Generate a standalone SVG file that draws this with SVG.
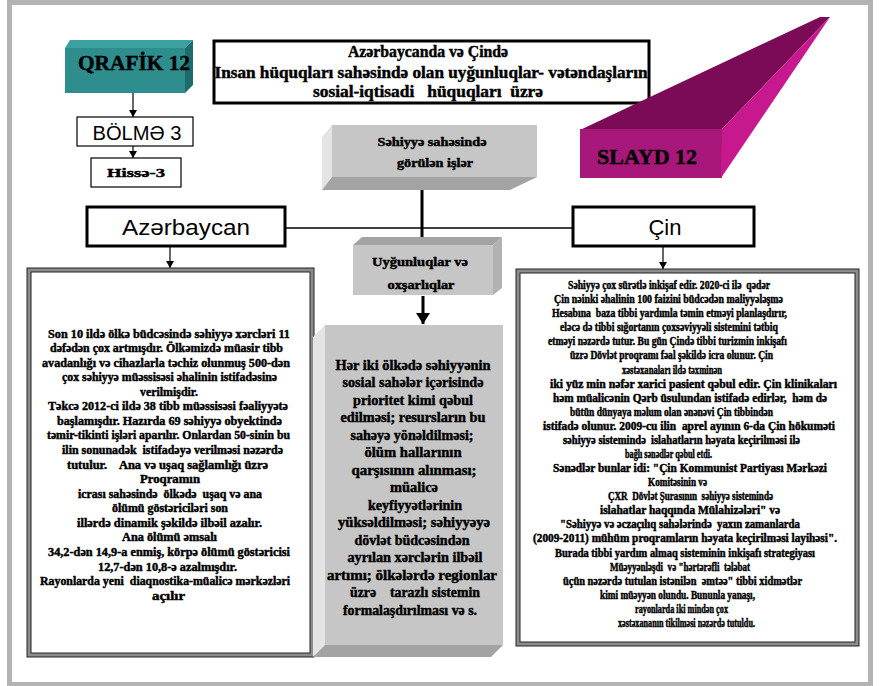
<svg xmlns="http://www.w3.org/2000/svg" width="881" height="686" viewBox="0 0 881 686">
<defs>
<style>
.t{font-family:"Liberation Serif","Times New Roman","DejaVu Serif",serif;font-weight:bold;fill:#000;stroke:#000;stroke-width:0.45;stroke-linejoin:round}
.s{font-family:"Liberation Sans",Arial,sans-serif;fill:#000}
.lb{font-size:12.5px}
.rb{font-size:11.5px}
.cb{font-size:14px}
.box{fill:#fff;stroke:#000;stroke-width:3}
.thin{fill:#fff;stroke:#000;stroke-width:1.2}
.dbl{fill:#fff;stroke:#8c8c8c;stroke-width:4}
.dl{fill:none;stroke:#222;stroke-width:1}
.conn{stroke:#000;fill:none}
.gF{fill:#c6c6c6}.gL{fill:#e4e4e4}.gD{fill:#a3a3a3}
</style>
<marker id="ah" markerUnits="userSpaceOnUse" markerWidth="8" markerHeight="8" refX="7" refY="4" orient="auto"><path d="M0,0 L7,4 L0,8 Z" fill="#000"/></marker>
<marker id="ahb" markerUnits="userSpaceOnUse" markerWidth="12" markerHeight="14" refX="11" refY="7" orient="auto"><path d="M0,0 L11,7 L0,14 Z" fill="#000"/></marker>
</defs>
<rect width="881" height="686" fill="#fff"/>
<rect x="9.5" y="2.5" width="861" height="682" fill="none" stroke="#b3b3b3" stroke-width="5"/>

<g id="connectors">
<line class="conn" x1="133" y1="93" x2="133" y2="117" stroke-width="1.2" marker-end="url(#ah)"/>
<line class="conn" x1="133" y1="146" x2="133" y2="158" stroke-width="1.2" marker-end="url(#ah)"/>
<line class="conn" x1="286" y1="228" x2="572" y2="228" stroke-width="1.5"/>
<line class="conn" x1="422" y1="178" x2="422" y2="238" stroke-width="3"/>
<line class="conn" x1="170" y1="247" x2="170" y2="268" stroke-width="1.2" marker-end="url(#ah)"/>
<line class="conn" x1="663" y1="247" x2="663" y2="269" stroke-width="1.2" marker-end="url(#ah)"/>
<line class="conn" x1="423" y1="296" x2="423" y2="324" stroke-width="3" marker-end="url(#ahb)"/>
</g>

<g id="qrafik">
<polygon points="65,48 70,40 193,40 185,48" fill="#3aa0a0"/>
<rect x="65" y="48" width="120" height="45" fill="#2e8e8e"/>
<polygon points="185,48 193,40 193,85 185,93" fill="#1f6b6b"/>
<text class="t" x="134" y="70" font-size="22" text-anchor="middle" textLength="112" lengthAdjust="spacingAndGlyphs">QRAFİK 12</text>
</g>

<g id="bolme">
<rect class="thin" x="77" y="117" width="116" height="29"/>
<text class="s" x="137" y="140" font-size="20" text-anchor="middle" textLength="89" lengthAdjust="spacingAndGlyphs">BÖLMƏ 3</text>
</g>

<g id="hisse">
<rect class="thin" x="91" y="158" width="90" height="29"/>
<text class="t" x="136" y="177" font-size="13" text-anchor="middle" textLength="58" lengthAdjust="spacingAndGlyphs">Hissə-3</text>
</g>

<g id="title">
<rect class="box" x="214" y="41" width="435" height="62"/>
<text class="t" x="428" y="57" font-size="16.5" text-anchor="middle" textLength="160" lengthAdjust="spacingAndGlyphs">Azərbaycanda və Çində</text>
<text class="t" x="431" y="78" font-size="16.5" text-anchor="middle" textLength="433" lengthAdjust="spacingAndGlyphs">Insan hüquqları sahəsində olan uyğunluqlar- vətəndaşların</text>
<text class="t" x="428" y="97" font-size="16.5" text-anchor="middle" textLength="230" lengthAdjust="spacingAndGlyphs" xml:space="preserve">sosial-iqtisadi   hüquqları  üzrə</text>
</g>

<g id="slayd">
<polygon points="580,130 820,17 830,17 722,129" fill="#7b0b56"/>
<rect x="580" y="129" width="142" height="49" fill="#a8177a"/>
<polygon points="722,129 830,17 721,178" fill="#c8188e"/>
<text class="t" x="647" y="164" font-size="22" text-anchor="middle" textLength="100" lengthAdjust="spacingAndGlyphs">SLAYD 12</text>
</g>

<g id="sehiyye">
<polygon class="gL" points="322,137 332,125 332,177 322,190"/>
<rect class="gF" x="332" y="125" width="205" height="52"/>
<polygon class="gD" points="322,190 332,177 537,177 510,190"/>
<text class="t" x="432" y="146" font-size="12.5" text-anchor="middle" textLength="109" lengthAdjust="spacingAndGlyphs">Səhiyyə sahəsində</text>
<text class="t" x="435" y="167" font-size="12.5" text-anchor="middle" textLength="76" lengthAdjust="spacingAndGlyphs">görülən işlər</text>
</g>

<g id="azerbaycan">
<rect class="box" x="87" y="207" width="198" height="39"/>
<text class="s" x="186" y="235" font-size="22" text-anchor="middle" textLength="128" lengthAdjust="spacingAndGlyphs">Azərbaycan</text>
</g>

<g id="cin">
<rect class="box" x="573" y="207" width="181" height="39"/>
<text class="s" x="665" y="235" font-size="22" text-anchor="middle">Çin</text>
</g>

<g id="uygunluqlar">
<polygon class="gD" points="353,245 362,237 502,237 493,245"/>
<rect class="gF" x="353" y="245" width="140" height="50"/>
<polygon fill="#b2b2b2" points="493,245 502,237 502,288 493,295"/>
<text class="t" x="420" y="266" font-size="12.5" text-anchor="middle" textLength="96" lengthAdjust="spacingAndGlyphs">Uyğunluqlar və</text>
<text class="t" x="421" y="289" font-size="12.5" text-anchor="middle" textLength="67" lengthAdjust="spacingAndGlyphs">oxşarlıqlar</text>
</g>

<g id="azerbaycan-text">
<rect class="dbl" x="29" y="270" width="283" height="385"/>
<rect class="dl" x="27" y="268" width="287" height="389"/>
<rect class="dl" x="31" y="272" width="279" height="381"/>
<g class="t lb">
<text x="48" y="337.5" textLength="242" lengthAdjust="spacingAndGlyphs">Son 10 ildə ölkə büdcəsində  səhiyyə xərcləri 11</text>
<text x="50" y="352.1" textLength="233" lengthAdjust="spacingAndGlyphs">dəfədən  çox artmışdır. Ölkəmizdə müasir tibb</text>
<text x="42" y="366.6" textLength="248" lengthAdjust="spacingAndGlyphs">avadanlığı və cihazlarla təchiz olunmuş 500-dən</text>
<text x="62" y="381.2" textLength="215" lengthAdjust="spacingAndGlyphs">çox səhiyyə müəssisəsi əhalinin istifadəsinə</text>
<text x="140" y="395.7" textLength="58" lengthAdjust="spacingAndGlyphs">verilmişdir.</text>
<text x="48" y="410.3" textLength="240" lengthAdjust="spacingAndGlyphs">Təkcə 2012-ci ildə 38 tibb müəssisəsi fəaliyyətə</text>
<text x="57" y="424.9" textLength="225" lengthAdjust="spacingAndGlyphs">başlamışdır. Hazırda 69 səhiyyə obyektində</text>
<text x="47" y="439.4" textLength="243" lengthAdjust="spacingAndGlyphs">təmir-tikinti işləri aparılır. Onlardan 50-sinin bu</text>
<text x="62" y="454" textLength="221" lengthAdjust="spacingAndGlyphs" xml:space="preserve">ilin sonunadək  istifadəyə verilməsi nəzərdə</text>
<text x="67" y="468.5" textLength="201" lengthAdjust="spacingAndGlyphs" xml:space="preserve">tutulur.    Ana və uşaq sağlamlığı üzrə</text>
<text x="140" y="483.1" textLength="60" lengthAdjust="spacingAndGlyphs">Proqramın</text>
<text x="78" y="497.7" textLength="184" lengthAdjust="spacingAndGlyphs" xml:space="preserve">icrası sahəsində  ölkədə  uşaq və ana</text>
<text x="112" y="512.2" textLength="116" lengthAdjust="spacingAndGlyphs">ölümü göstəriciləri son</text>
<text x="77" y="526.8" textLength="185" lengthAdjust="spacingAndGlyphs">illərdə dinamik şəkildə ilbəil azalır.</text>
<text x="122" y="541.3" textLength="95" lengthAdjust="spacingAndGlyphs">Ana ölümü əmsalı</text>
<text x="48" y="555.9" textLength="242" lengthAdjust="spacingAndGlyphs">34,2-dən 14,9-a enmiş, körpə ölümü göstəricisi</text>
<text x="98" y="570.5" textLength="139" lengthAdjust="spacingAndGlyphs">12,7-dən 10,8-ə azalmışdır.</text>
<text x="40" y="585" textLength="250" lengthAdjust="spacingAndGlyphs" xml:space="preserve">Rayonlarda yeni  diaqnostika-müalicə mərkəzləri</text>
<text x="152" y="599.6" textLength="33" lengthAdjust="spacingAndGlyphs">açılır</text>
</g>
</g>

<g id="oxsarliqlar-text">
<polygon class="gL" points="313,337 325,325 325,645 313,657"/>
<rect class="gF" x="325" y="325" width="178" height="320"/>
<polygon class="gD" points="313,657 325,645 503,645 491,657"/>
<g class="t cb" text-anchor="middle">
<text x="413" y="369.5" textLength="155" lengthAdjust="spacingAndGlyphs">Hər iki ölkədə səhiyyənin</text>
<text x="413" y="387" textLength="141" lengthAdjust="spacingAndGlyphs">sosial sahələr içərisində</text>
<text x="413" y="404.5" textLength="120" lengthAdjust="spacingAndGlyphs">prioritet kimi qəbul</text>
<text x="413" y="422" textLength="145" lengthAdjust="spacingAndGlyphs">edilməsi; resursların bu</text>
<text x="412" y="439.5" textLength="123" lengthAdjust="spacingAndGlyphs">sahəyə yönəldilməsi;</text>
<text x="413" y="457" textLength="97" lengthAdjust="spacingAndGlyphs">ölüm hallarının</text>
<text x="414" y="474.5" textLength="125" lengthAdjust="spacingAndGlyphs">qarşısının alınması;</text>
<text x="414" y="492" textLength="48" lengthAdjust="spacingAndGlyphs">müalicə</text>
<text x="415" y="509.5" textLength="94" lengthAdjust="spacingAndGlyphs">keyfiyyətlərinin</text>
<text x="414" y="527" textLength="152" lengthAdjust="spacingAndGlyphs">yüksəldilməsi; səhiyyəyə</text>
<text x="412" y="544.5" textLength="115" lengthAdjust="spacingAndGlyphs">dövlət büdcəsindən</text>
<text x="415" y="562" textLength="135" lengthAdjust="spacingAndGlyphs">ayrılan xərclərin ilbəil</text>
<text x="412" y="579.5" textLength="170" lengthAdjust="spacingAndGlyphs">artımı; ölkələrdə regionlar</text>
<text x="415" y="597" textLength="130" lengthAdjust="spacingAndGlyphs" xml:space="preserve">üzrə    tarazlı sistemin</text>
<text x="410" y="614.5" textLength="134" lengthAdjust="spacingAndGlyphs">formalaşdırılması və s.</text>
</g>
</g>

<g id="cin-text">
<rect class="dbl" x="518" y="271" width="339" height="373"/>
<rect class="dl" x="516" y="269" width="343" height="377"/>
<rect class="dl" x="520" y="273" width="335" height="369"/>
<g class="t rb">
<text x="568" y="289" textLength="202" lengthAdjust="spacingAndGlyphs" xml:space="preserve">Səhiyyə çox sürətlə inkişaf edir. 2020-ci ilə  qədər</text>
<text x="554" y="303.1" textLength="229" lengthAdjust="spacingAndGlyphs">Çin nəinki əhalinin 100 faizini büdcədən maliyyələşmə</text>
<text x="552" y="317.2" textLength="235" lengthAdjust="spacingAndGlyphs" xml:space="preserve">Hesabına  baza tibbi yardımla təmin etməyi planlaşdırır,</text>
<text x="560" y="331.2" textLength="218" lengthAdjust="spacingAndGlyphs">eləcə də tibbi sığortanın çoxsəviyyəli sistemini tətbiq</text>
<text x="548" y="345.3" textLength="239" lengthAdjust="spacingAndGlyphs">etməyi nəzərdə tutur. Bu gün Çində tibbi turizmin inkişafı</text>
<text x="570" y="359.4" textLength="203" lengthAdjust="spacingAndGlyphs">üzrə Dövlət proqramı fəal şəkildə icra olunur. Çin</text>
<text x="622" y="373.5" textLength="100" lengthAdjust="spacingAndGlyphs">xəstəxanaları ildə təxminən</text>
<text x="550" y="387.6" textLength="287" lengthAdjust="spacingAndGlyphs">iki yüz min nəfər xarici pasient qəbul edir. Çin klinikaları</text>
<text x="553" y="401.6" textLength="274" lengthAdjust="spacingAndGlyphs" xml:space="preserve">həm müalicənin Qərb üsulundan istifadə edirlər,  həm də</text>
<text x="570" y="415.7" textLength="203" lengthAdjust="spacingAndGlyphs">bütün dünyaya məlum olan ənənəvi Çin tibbindən</text>
<text x="543" y="429.8" textLength="292" lengthAdjust="spacingAndGlyphs" xml:space="preserve">istifadə olunur. 2009-cu ilin  aprel ayının 6-da Çin hökuməti</text>
<text x="563" y="443.9" textLength="237" lengthAdjust="spacingAndGlyphs" xml:space="preserve">səhiyyə sistemində  islahatların həyata keçirilməsi ilə</text>
<text x="625" y="458" textLength="87" lengthAdjust="spacingAndGlyphs">bağlı sənədlər qəbul etdi.</text>
<text x="553" y="472" textLength="274" lengthAdjust="spacingAndGlyphs">Sənədlər bunlar idi: "Çin Kommunist Partiyası Mərkəzi</text>
<text x="648" y="486.1" textLength="59" lengthAdjust="spacingAndGlyphs">Komitəsinin və</text>
<text x="608" y="500.2" textLength="165" lengthAdjust="spacingAndGlyphs" xml:space="preserve">ÇXR  Dövlət Şurasının  səhiyyə sistemində</text>
<text x="600" y="514.3" textLength="180" lengthAdjust="spacingAndGlyphs">islahatlar haqqında Mülahizələri" və</text>
<text x="560" y="528.4" textLength="240" lengthAdjust="spacingAndGlyphs" xml:space="preserve">"Səhiyyə və əczaçılıq sahələrində  yaxın zamanlarda</text>
<text x="533" y="542.4" textLength="304" lengthAdjust="spacingAndGlyphs">(2009-2011) mühüm proqramların həyata keçirilməsi layihəsi".</text>
<text x="555" y="556.5" textLength="260" lengthAdjust="spacingAndGlyphs">Burada tibbi yardım almaq sisteminin inkişafı strategiyası</text>
<text x="610" y="570.6" textLength="140" lengthAdjust="spacingAndGlyphs" xml:space="preserve">Müəyyənləşdi  və "hərtərəfli  tələbat</text>
<text x="563" y="584.7" textLength="239" lengthAdjust="spacingAndGlyphs" xml:space="preserve">üçün nəzərdə tutulan istənilən  əmtəə" tibbi xidmətlər</text>
<text x="600" y="598.8" textLength="155" lengthAdjust="spacingAndGlyphs">kimi müəyyən olundu. Bununla yanaşı,</text>
<text x="635" y="612.8" textLength="93" lengthAdjust="spacingAndGlyphs">rayonlarda iki mindən çox</text>
<text x="618" y="627" textLength="137" lengthAdjust="spacingAndGlyphs">xəstəxananın tikilməsi nəzərdə tutuldu.</text>
</g>
</g>
</svg>
